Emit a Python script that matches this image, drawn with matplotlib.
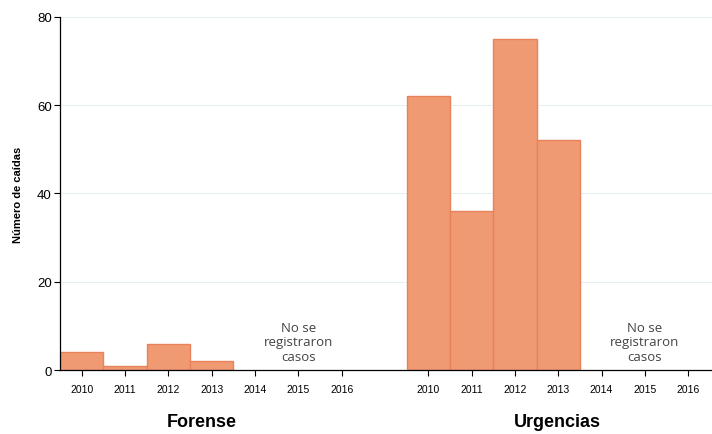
import matplotlib
matplotlib.use('Agg')
import matplotlib.pyplot as plt

plt.rcParams['font.family'] = ['Liberation Sans', 'DejaVu Sans']

years = ['2010', '2011', '2012', '2013', '2014', '2015', '2016']
groups = ['Forense', 'Urgencias']
forense = [4, 1, 6, 2]
urgencias = [62, 36, 75, 52]
no_data_note = 'No se\nregistraron\ncasos'
ylabel = 'Número de caídas'
yticks = [0, 20, 40, 60, 80]

fill = '#EF9A72'
edge = '#E8825A'

fig = plt.figure(figsize=(7.12, 4.35), dpi=100)
ax = fig.add_axes([0.0843, 0.147, 0.9157, 0.812])

gap = len(years) + 1
xpos = []
xlabels = []
for g, vals in enumerate([forense, urgencias]):
  base = g * gap
  xs = [base + i for i in range(len(vals))]
  ax.bar(xs, vals, width=1.0, color=fill, edgecolor=edge, linewidth=1.0, zorder=2)
  ax.text(base + 5, 1.6, no_data_note, ha='center', va='bottom', fontsize=9.5,
          color='#444444', family=['Open Sans', 'DejaVu Sans'], linespacing=1.15)
  ax.text(base + 1.97, -11.6, groups[g], ha='left', va='center', fontsize=13,
          fontweight='bold', color='black')
  xpos += [base + i for i in range(len(years))]
  xlabels += years

ax.set_xlim(-0.5, 14.55)
ax.set_ylim(0, 80)
ax.set_xticks(xpos)
ax.set_xticklabels(xlabels, fontsize=7.5)
ax.set_yticks(yticks)
ax.set_yticklabels([str(v) for v in yticks], fontsize=9.5)
ax.tick_params(axis='x', length=4, width=0.8, pad=6)
ax.tick_params(axis='y', length=4, width=0.8, pad=2)
ax.set_ylabel(ylabel, fontsize=8, fontweight='bold', labelpad=10)
ax.grid(axis='y', color='#E6F0F2', linewidth=0.8, zorder=0)
ax.set_axisbelow(True)
for side in ['top', 'right']:
  ax.spines[side].set_visible(False)
for side in ['left', 'bottom']:
  ax.spines[side].set_linewidth(0.9)

plt.savefig('out.png', dpi=100)
